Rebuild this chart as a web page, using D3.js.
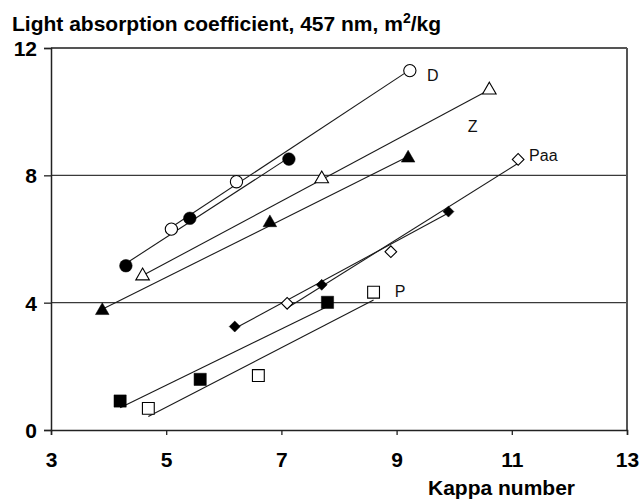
<!DOCTYPE html>
<html>
<head>
<meta charset="utf-8">
<script src="https://cdn.jsdelivr.net/npm/d3@7"></script>
<style>
  html, body { margin: 0; padding: 0; background: #fff; }
  svg { display: block; }
</style>
</head>
<body>
<svg id="chart" width="642" height="500"></svg>
<script>
// ---- data ----
const xTicks = [3, 5, 7, 9, 11, 13];
const yTicks = [0, 4, 8, 12];
const gridValues = [4, 8];

const dFilledX = [4.30, 5.41, 7.13];
const dFilledY = [5.16, 6.65, 8.51];
const dOpenX = [5.09, 6.22, 9.23];
const dOpenY = [6.31, 7.80, 11.29];

const zOpenX = [4.59, 7.70, 10.61];
const zOpenY = [4.84, 7.89, 10.68];
const zFilledX = [3.89, 6.80, 9.20];
const zFilledY = [3.75, 6.51, 8.54];

const paaFilledX = [6.19, 7.70, 9.90];
const paaFilledY = [3.25, 4.56, 6.86];
const paaOpenX = [7.10, 8.90, 11.11];
const paaOpenY = [3.98, 5.60, 8.50];

const pFilledX = [4.20, 5.59, 7.80];
const pFilledY = [0.91, 1.59, 4.01];
const pOpenX = [4.69, 6.60, 8.60];
const pOpenY = [0.68, 1.71, 4.33];

const seriesLabels = ["D", "Z", "Paa", "P"];
const seriesLabelX = [9.63, 10.32, 11.30, 9.06];
const seriesLabelY = [11.15, 9.53, 8.64, 4.35];

const titleText = "Light absorption coefficient, 457 nm, m";
const xTitle = "Kappa number";

(function () {
// ---- layout ----
const svg = d3.select("#chart");
const pLeft = 51, pRight = 627, pTop = 48, pBottom = 430;
const x = d3.scaleLinear().domain([3, 13]).range([pLeft, pRight]);
const y = d3.scaleLinear().domain([0, 12]).range([pBottom, pTop]);

const narrow = "'Liberation Sans Narrow', 'Arial Narrow', sans-serif";
const regular = "'Liberation Sans', Arial, sans-serif";

// gridlines
svg.append("g").selectAll("line").data(gridValues).join("line")
  .attr("x1", pLeft).attr("x2", pRight)
  .attr("y1", d => y(d)).attr("y2", d => y(d))
  .attr("stroke", "#3a3a3a").attr("stroke-width", 1.4);

// frame top/right
svg.append("line").attr("x1", pLeft).attr("x2", pRight)
  .attr("y1", y(12)).attr("y2", y(12))
  .attr("stroke", "#555").attr("stroke-width", 2);
svg.append("line").attr("x1", pRight).attr("x2", pRight)
  .attr("y1", y(12)).attr("y2", y(0))
  .attr("stroke", "#555").attr("stroke-width", 2);

// axes
const xAxis = svg.append("g").attr("transform", `translate(0,${pBottom})`)
  .call(d3.axisBottom(x).tickValues(xTicks).tickSize(5).tickPadding(17).tickFormat(d3.format("d")));
const yAxis = svg.append("g").attr("transform", `translate(${pLeft},0)`)
  .call(d3.axisLeft(y).tickValues(yTicks).tickSize(7).tickPadding(7).tickFormat(d3.format("d")));
[xAxis, yAxis].forEach(g => {
  g.select(".domain").attr("stroke", "#222").attr("stroke-width", 1.5);
  g.selectAll(".tick line").attr("stroke", "#222").attr("stroke-width", 1.3);
  g.selectAll("text").attr("fill", "#000")
    .attr("font-family", narrow).attr("font-weight", "bold").attr("font-size", 21);
});
yAxis.selectAll("text").attr("dy", "0.36em");

// title
const t = svg.append("text").attr("x", 12).attr("y", 31)
  .attr("font-family", narrow).attr("font-weight", "bold").attr("font-size", 21)
  .attr("fill", "#000");
t.append("tspan").text(titleText);
t.append("tspan").attr("dy", -8).attr("font-size", 14).text("2");
t.append("tspan").attr("dy", 8).text("/kg");

svg.append("text").attr("x", 575).attr("y", 495).attr("text-anchor", "end")
  .attr("font-family", narrow).attr("font-weight", "bold").attr("font-size", 21)
  .attr("fill", "#000").text(xTitle);

// series
const series = [
  { xs: dFilledX, ys: dFilledY, sym: d3.symbolCircle, size: 125, filled: true, rot: 0 },
  { xs: dOpenX, ys: dOpenY, sym: d3.symbolCircle, size: 118, filled: false, rot: 0 },
  { xs: zOpenX, ys: zOpenY, sym: d3.symbolTriangle, size: 80, filled: false, rot: 0 },
  { xs: zFilledX, ys: zFilledY, sym: d3.symbolTriangle, size: 80, filled: true, rot: 0 },
  { xs: paaFilledX, ys: paaFilledY, sym: d3.symbolSquare, size: 60, filled: true, rot: 45 },
  { xs: paaOpenX, ys: paaOpenY, sym: d3.symbolSquare, size: 68, filled: false, rot: 45 },
  { xs: pFilledX, ys: pFilledY, sym: d3.symbolSquare, size: 150, filled: true, rot: 0 },
  { xs: pOpenX, ys: pOpenY, sym: d3.symbolSquare, size: 140, filled: false, rot: 0 }
];

// least-squares trendline per series, from min x to max x
function fit(xs, ys) {
  const mx = d3.mean(xs), my = d3.mean(ys);
  const sxy = d3.sum(xs, (v, i) => (v - mx) * (ys[i] - my));
  const sxx = d3.sum(xs, v => (v - mx) * (v - mx));
  const b = sxy / sxx, a = my - b * mx;
  const x0 = d3.min(xs), x1 = d3.max(xs);
  return [[x0, a + b * x0], [x1, a + b * x1]];
}

const lineGen = d3.line().x(d => x(d[0])).y(d => y(d[1]));
const lines = svg.append("g");
series.forEach(s => {
  lines.append("path").attr("d", lineGen(fit(s.xs, s.ys)))
    .attr("fill", "none").attr("stroke", "#1a1a1a").attr("stroke-width", 1.1);
});

const marks = svg.append("g");
series.forEach(s => {
  const pts = s.xs.map((v, i) => [v, s.ys[i]]);
  marks.selectAll(null).data(pts).join("path")
    .attr("transform", d => `translate(${x(d[0])},${y(d[1])}) rotate(${s.rot})`)
    .attr("d", d3.symbol().type(s.sym).size(s.size)())
    .attr("fill", s.filled ? "#000" : "#fff")
    .attr("stroke", "#000").attr("stroke-width", s.filled ? 0.5 : 1.1);
});

// series labels
svg.append("g").selectAll("text").data(seriesLabels).join("text")
  .attr("x", (d, i) => x(seriesLabelX[i]))
  .attr("y", (d, i) => y(seriesLabelY[i]))
  .attr("text-anchor", d => d === "Paa" ? "start" : "middle")
  .attr("dy", "0.36em")
  .attr("font-family", regular).attr("font-size", 16).attr("fill", "#111")
  .text(d => d);
})();
</script>
</body>
</html>
